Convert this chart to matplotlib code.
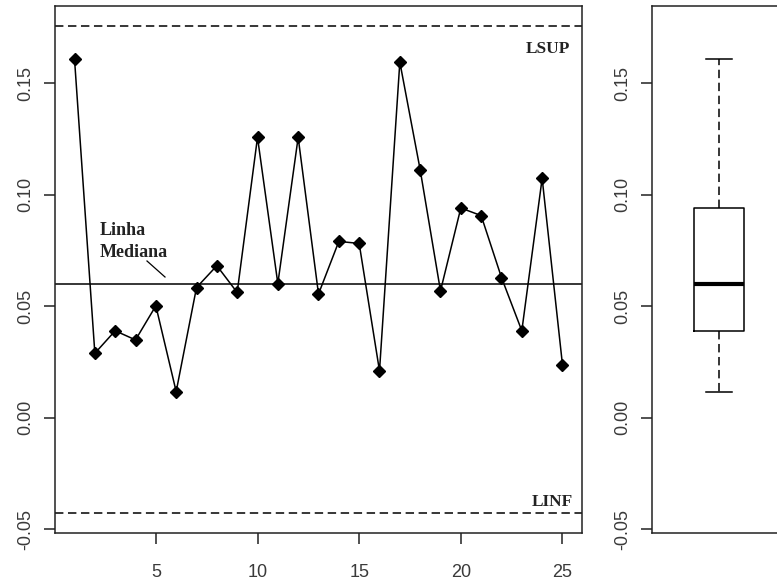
import matplotlib
matplotlib.use("Agg")
import matplotlib.pyplot as plt
import numpy as np

# ---- data ----
amostra = list(range(1, 26))
valores = [0.1609, 0.0289, 0.0390, 0.0349, 0.0502, 0.0117, 0.0584, 0.0682,
           0.0562, 0.1258, 0.0602, 0.1258, 0.0555, 0.0791, 0.0782, 0.0210,
           0.1596, 0.1113, 0.0569, 0.0941, 0.0907, 0.0629, 0.0390, 0.1074,
           0.0237]
LSUP = 0.176
LINF = -0.043
mediana = float(np.median(valores))
xticks = [5, 10, 15, 20, 25]
yticks = [-0.05, 0.00, 0.05, 0.10, 0.15]
ytick_labels = ["-0.05", "0.00", "0.05", "0.10", "0.15"]

W, H = 777, 584
fig = plt.figure(figsize=(W / 100, H / 100), dpi=100)
fig.patch.set_facecolor("white")

sans = ["Liberation Sans", "DejaVu Sans"]
serif = ["Liberation Serif", "DejaVu Serif"]
tick_col = "#3a3a3a"

def px_axes(l, t, r, b):
    return fig.add_axes([l / W, 1 - b / H, (r - l) / W, (b - t) / H])

ypad = 0.04 * (LSUP - LINF)
ylim = (LINF - ypad, LSUP + ypad)

# ---- left: control chart ----
ax = px_axes(55, 6, 582, 533)
ax.plot(amostra, valores, color="black", lw=1.1, marker="D", ms=5.8,
        mfc="black", mec="black")
ax.axhline(mediana, color="black", lw=1.1)
ax.axhline(LSUP, color="black", lw=1.1, ls=(0, (5.5, 3)))
ax.axhline(LINF, color="black", lw=1.1, ls=(0, (5.5, 3)))
ax.set_xlim(1 - 0.96, 25 + 0.96)
ax.set_ylim(*ylim)
ax.set_xticks(xticks)
ax.set_xticklabels([str(t) for t in xticks], family=sans, fontsize=13, color=tick_col)
ax.set_yticks(yticks)
ax.set_yticklabels(ytick_labels, family=sans, fontsize=13, color=tick_col,
                   rotation=90, va="center")
ax.tick_params(axis="x", length=8, width=1.1, pad=14, color="#222222")
ax.tick_params(axis="y", length=8, width=1.1, pad=7, color="#222222")
for s in ax.spines.values():
    s.set_linewidth(1.1)
    s.set_color("#222222")

# annotations in pixel space
def px2data(ax, px, py):
    inv = ax.transData.inverted()
    return inv.transform((px, H - py))

fig.canvas.draw()
ax.text(*px2data(ax, 100, 235), "Linha", family=serif, weight="bold",
        fontsize=13, color="#222222", ha="left", va="baseline")
ax.text(*px2data(ax, 100, 257), "Mediana", family=serif, weight="bold",
        fontsize=13, color="#222222", ha="left", va="baseline")
p0 = px2data(ax, 147, 261)
p1 = px2data(ax, 165, 277)
ax.plot([p0[0], p1[0]], [p0[1], p1[1]], color="black", lw=0.9)
ax.text(*px2data(ax, 570, 53), "LSUP", family=serif, weight="bold",
        fontsize=12.5, color="#222222", ha="right", va="baseline")
ax.text(*px2data(ax, 573, 506), "LINF", family=serif, weight="bold",
        fontsize=12.5, color="#222222", ha="right", va="baseline")

# ---- right: boxplot ----
ax2 = px_axes(652, 6, 800, 533)
bp = ax2.boxplot([valores], positions=[1], widths=0.8, whis=(0, 100),
                 patch_artist=False, capwidths=0.43,
                 medianprops=dict(color="black", lw=3),
                 boxprops=dict(color="black", lw=1.1),
                 whiskerprops=dict(color="black", lw=1.1, ls=(0, (5.5, 3))),
                 capprops=dict(color="black", lw=1.1),
                 showfliers=False)
ax2.set_xlim(1 - 67 / 62.5, 1 + 81 / 62.5)
ax2.set_ylim(*ylim)
ax2.set_xticks([])
ax2.set_yticks(yticks)
ax2.set_yticklabels(ytick_labels, family=sans, fontsize=13, color=tick_col,
                    rotation=90, va="center")
ax2.tick_params(axis="y", length=8, width=1.1, pad=7, color="#222222")
for s in ax2.spines.values():
    s.set_linewidth(1.1)
    s.set_color("#222222")

fig.savefig("out.png", dpi=100, facecolor="white")
